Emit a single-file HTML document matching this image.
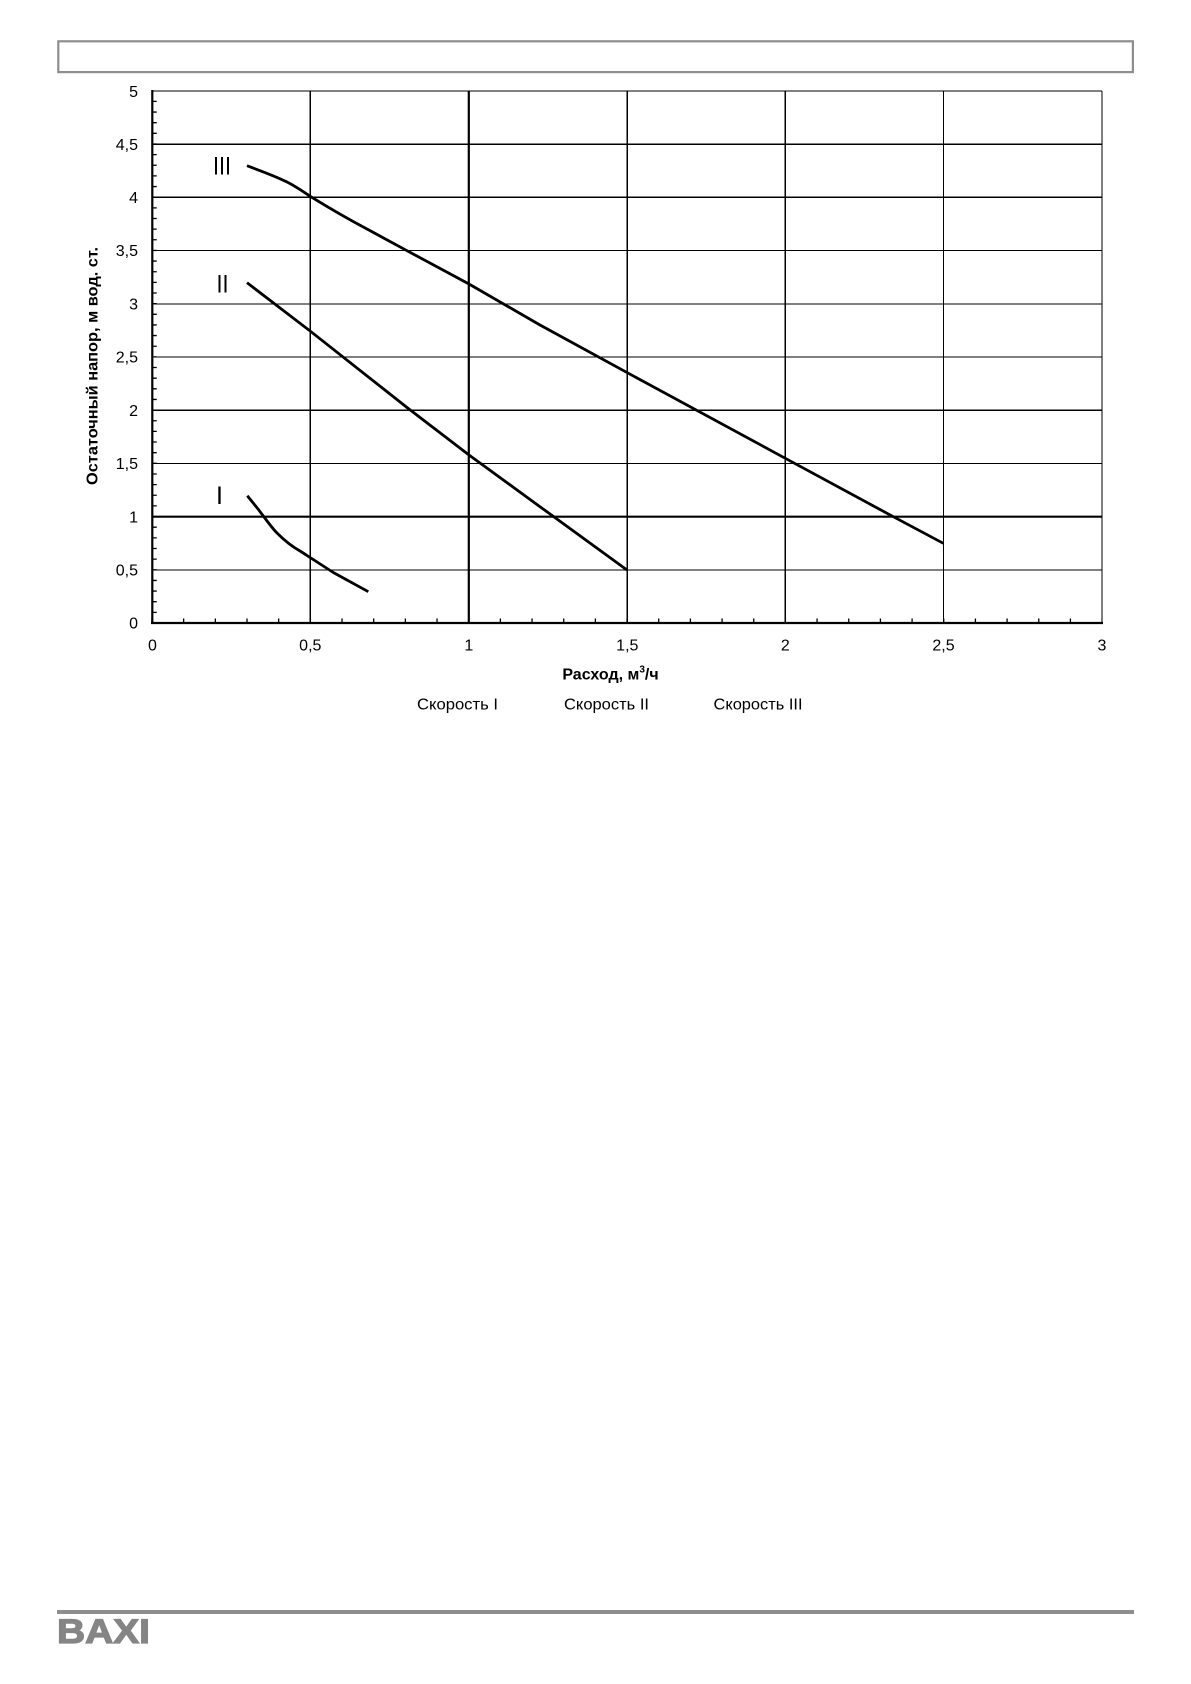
<!DOCTYPE html>
<html>
<head>
<meta charset="utf-8">
<style>
  html, body { margin:0; padding:0; background:#fff; }
  body { width:1191px; height:1684px; overflow:hidden; }
  svg { display:block; }
  text { font-family: "Liberation Sans", "DejaVu Sans", sans-serif; fill:#000; }
</style>
</head>
<body>
<svg width="1191" height="1684" viewBox="0 0 1191 1684" xmlns="http://www.w3.org/2000/svg">
  <rect x="58.3" y="41.3" width="1074.6" height="30.8" fill="none" stroke="#8e8e8e" stroke-width="2.2"/>

  <g stroke="#000" stroke-width="1.3" shape-rendering="crispEdges">
    <line x1="152" y1="91" x2="1102" y2="91"/>
    <line x1="152" y1="144.3" x2="1102" y2="144.3"/>
    <line x1="152" y1="197.3" x2="1102" y2="197.3"/>
    <line x1="152" y1="250.5" x2="1102" y2="250.5"/>
    <line x1="152" y1="304" x2="1102" y2="304"/>
    <line x1="152" y1="357" x2="1102" y2="357"/>
    <line x1="152" y1="410.3" x2="1102" y2="410.3"/>
    <line x1="152" y1="463.5" x2="1102" y2="463.5"/>
    <line x1="152" y1="570" x2="1102" y2="570"/>
    <line x1="310.3" y1="91" x2="310.3" y2="623"/>
    <line x1="627.3" y1="91" x2="627.3" y2="623"/>
    <line x1="785.3" y1="91" x2="785.3" y2="623"/>
    <line x1="943.5" y1="91" x2="943.5" y2="623"/>
    <line x1="1102" y1="91" x2="1102" y2="623"/>
  </g>
  <g stroke="#000" stroke-width="2.2">
    <line x1="152" y1="516.7" x2="1102" y2="516.7"/>
    <line x1="468.8" y1="91" x2="468.8" y2="623"/>
    <line x1="152.3" y1="90" x2="152.3" y2="623.5"/>
    <line x1="151" y1="623" x2="1103" y2="623"/>
  </g>

  <!-- minor ticks via dash patterns -->
  <line x1="154.5" y1="623.65" x2="154.5" y2="91" stroke="#000" stroke-width="4.5" stroke-dasharray="1.3 9.345"/>
  <line x1="151.35" y1="620.75" x2="1102" y2="620.75" stroke="#000" stroke-width="4.5" stroke-dasharray="1.3 30.37"/>

  <g fill="none" stroke="#000" stroke-width="2.8" stroke-linejoin="round">
    <path d="M247,165.7 C262,171.5 274,175.5 287,182 C296,186.5 303,191.5 311,196.8 C330,208.5 350,220 367,229 L407,250.7 L469,284 L540,325 L627.3,372.7 L785.3,458.3 L893.3,516.7 L943.3,543.3"/>
    <path d="M247,282.7 L311,331.7 L407,407.5 L469,455 L540,506.7 L627,570"/>
    <path d="M247.3,495.7 L258,509 C265,518 271,527 277,533 C284,540 291,546 300,551 C305,554 309,557 314,560 L333.3,572.5 L368.3,591.7"/>
  </g>

  <g font-size="25" text-anchor="end">
    <text x="231" y="174.5" textLength="18" lengthAdjust="spacingAndGlyphs">III</text>
    <text x="228.5" y="292.3" textLength="12" lengthAdjust="spacingAndGlyphs">II</text>
    <text x="223" y="504">I</text>
  </g>

  <g font-size="16" text-anchor="end">
    <text x="138" y="96.8">5</text>
    <text x="138" y="150">4,5</text>
    <text x="138" y="203">4</text>
    <text x="138" y="256.2">3,5</text>
    <text x="138" y="309.7">3</text>
    <text x="138" y="362.7">2,5</text>
    <text x="138" y="416">2</text>
    <text x="138" y="469.2">1,5</text>
    <text x="138" y="522.4">1</text>
    <text x="138" y="575.7">0,5</text>
    <text x="138" y="628.7">0</text>
  </g>

  <g font-size="16" text-anchor="middle">
    <text x="152.5" y="650.3">0</text>
    <text x="310.3" y="650.3">0,5</text>
    <text x="468.8" y="650.3">1</text>
    <text x="627.3" y="650.3">1,5</text>
    <text x="785.3" y="650.3">2</text>
    <text x="943.5" y="650.3">2,5</text>
    <text x="1102" y="650.3">3</text>
  </g>

  <text x="610.5" y="679.3" font-size="16" font-weight="bold" text-anchor="middle">Расход, м<tspan font-size="10" dy="-7">3</tspan><tspan dy="7">/ч</tspan></text>
  <text transform="translate(97.5,366) rotate(-90)" font-size="16" font-weight="bold" text-anchor="middle" textLength="238" lengthAdjust="spacingAndGlyphs">Остаточный напор, м вод. ст.</text>

  <g font-size="16">
    <text x="417" y="709.5" textLength="81" lengthAdjust="spacingAndGlyphs">Скорость I</text>
    <text x="564" y="709.5" textLength="85" lengthAdjust="spacingAndGlyphs">Скорость II</text>
    <text x="713.5" y="709.5" textLength="89" lengthAdjust="spacingAndGlyphs">Скорость III</text>
  </g>

  <rect x="57" y="1610" width="1077" height="4" fill="#8e8e8e"/>
  <text x="57" y="1643" font-size="34" font-weight="bold" stroke="#858585" stroke-width="1.2" textLength="93" lengthAdjust="spacingAndGlyphs" style="fill:#858585">BAXI</text>
</svg>
</body>
</html>
